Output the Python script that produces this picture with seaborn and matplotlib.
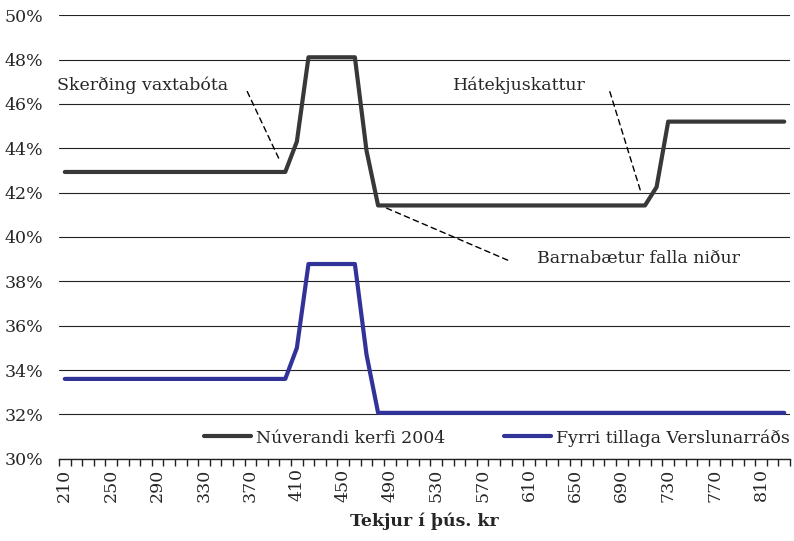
import matplotlib
matplotlib.use("Agg")
import matplotlib.pyplot as plt
import matplotlib.ticker as mticker
import seaborn as sns
import pandas as pd

# Tekjur í þús. kr (210 ... 830)
tekjur = list(range(210, 840, 10))

# Núverandi kerfi 2004 (%)
nuverandi = ([42.93] * 20
             + [44.3, 48.1, 48.1, 48.1, 48.1, 48.1, 43.9]
             + [41.42] * 24
             + [42.25]
             + [45.2] * 11)

# Fyrri tillaga Verslunarráðs (%)
tillaga = ([33.6] * 20
           + [35.0, 38.78, 38.78, 38.78, 38.78, 38.78, 34.7]
           + [32.07] * 36)

series_names = ["Núverandi kerfi 2004", "Fyrri tillaga Verslunarráðs"]
colors = ["#383838", "#323399"]

df = pd.concat([
    pd.DataFrame({"tekjur": tekjur, "hlutfall": nuverandi, "kerfi": series_names[0]}),
    pd.DataFrame({"tekjur": tekjur, "hlutfall": tillaga, "kerfi": series_names[1]}),
])

sns.set_style("white")
plt.rcParams["font.family"] = ["DejaVu Serif"]
fs = 12.5

fig, ax = plt.subplots(figsize=(7.94, 5.41), dpi=100)
fig.subplots_adjust(left=0.0743, right=0.995, top=0.972, bottom=0.152)

sns.lineplot(data=df, x="tekjur", y="hlutfall", hue="kerfi",
             palette=dict(zip(series_names, colors)), linewidth=3.0,
             ax=ax, legend=True)

ax.set_xlim(205, 835)
ax.set_ylim(30, 50)
ax.yaxis.set_major_locator(mticker.MultipleLocator(2))
ax.yaxis.set_major_formatter(mticker.FuncFormatter(lambda v, p: f"{v:.0f}%"))
ax.grid(axis="y", color="#222222", linewidth=0.8)
ax.set_axisbelow(True)

ax.set_xticks(tekjur[::4])
ax.set_xticklabels([str(t) for t in tekjur[::4]], rotation=90)
ax.set_xticks([t - 5 for t in tekjur] + [tekjur[-1] + 5], minor=True)
ax.tick_params(axis="x", which="major", length=0, pad=7, labelsize=fs)
ax.tick_params(axis="x", which="minor", length=5, width=1, color="#222222", direction="out", bottom=True)
ax.tick_params(axis="y", length=0, labelsize=fs, pad=11.5)

for s in ["left", "right", "top"]:
    ax.spines[s].set_visible(False)
ax.spines["bottom"].set_color("#222222")
ax.spines["bottom"].set_linewidth(1)

ax.set_xlabel("Tekjur í þús. kr", fontweight="bold", fontsize=fs, labelpad=8)
ax.set_ylabel("")

leg = ax.legend(loc="lower right", bbox_to_anchor=(1.012, 0.008), ncol=2, frameon=False,
                fontsize=fs, handlelength=2.7, columnspacing=3.4, handletextpad=0.3,
                borderaxespad=0.3, borderpad=0.2)

dash = dict(arrowstyle="-", linestyle=(0, (4, 3)), color="black", linewidth=1)
ax.annotate("", xy=(396.3, 43.33), xytext=(366.2, 46.67), arrowprops=dash)
ax.annotate("", xy=(706.6, 42.0), xytext=(679, 46.67), arrowprops=dash)
ax.annotate("", xy=(595.4, 38.87), xytext=(485, 41.35), arrowprops=dash)

ax.text(203.3, 46.85, "Skerðing vaxtabóta", fontsize=fs, va="center", ha="left")
ax.text(544.5, 46.85, "Hátekjuskattur", fontsize=fs, va="center", ha="left")
ax.text(617, 39.05, "Barnabætur falla niður", fontsize=fs, va="center", ha="left")

fig.savefig("out.png", dpi=100)
